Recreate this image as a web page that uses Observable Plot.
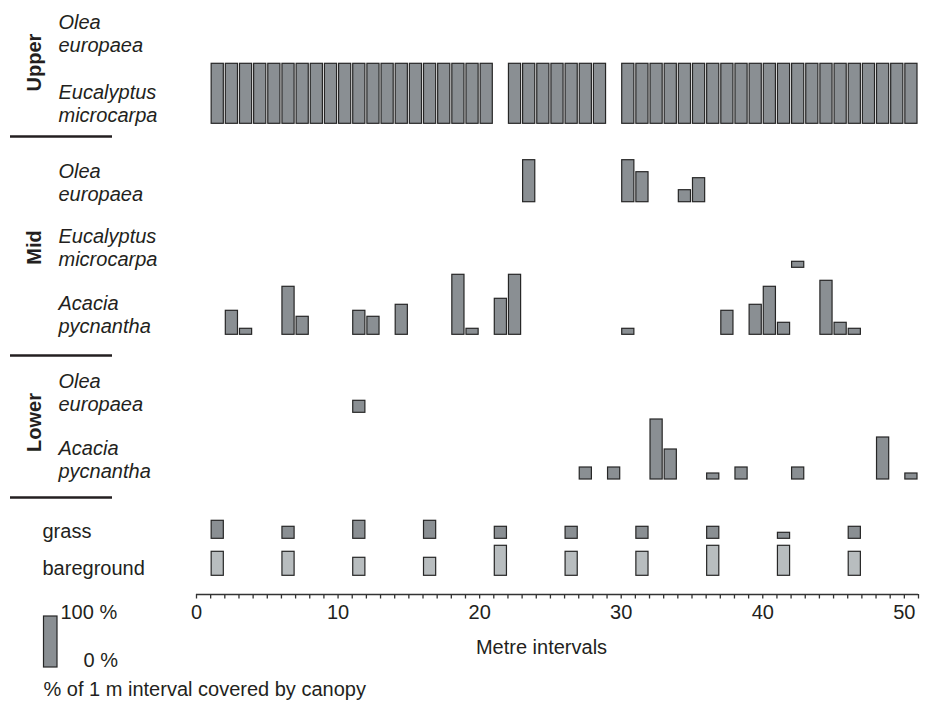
<!DOCTYPE html>
<html>
<head>
<meta charset="utf-8">
<script src="https://cdn.jsdelivr.net/npm/d3@7"></script>
<script src="https://cdn.jsdelivr.net/npm/@observablehq/plot@0.6"></script>
<style>
  html, body { margin: 0; padding: 0; background: #fff; }
  #chart { width: 932px; height: 704px; }
</style>
</head>
<body>
<div id="chart"></div>
<script>
// ---------------- DATA (metre interval start, % of interval covered) ----------------
const upperOleaM = [];
const upperOleaPct = [];

const upperEucM = [1,2,3,4,5,6,7,8,9,10,11,12,13,14,15,16,17,18,19,20,
                   22,23,24,25,26,27,28,
                   30,31,32,33,34,35,36,37,38,39,40,41,42,43,44,45,46,47,48,49,50];
const upperEucPct = [100,100,100,100,100,100,100,100,100,100,100,100,100,100,100,100,100,100,100,100,
                     100,100,100,100,100,100,100,
                     100,100,100,100,100,100,100,100,100,100,100,100,100,100,100,100,100,100,100,100,100];

const midOleaM = [23, 30, 31, 34, 35];
const midOleaPct = [70, 70, 50, 20, 40];

const midEucM = [42];
const midEucPct = [10];

const midAcaciaM = [2, 3, 6, 7, 11, 12, 14, 18, 19, 21, 22, 30, 37, 39, 40, 41, 44, 45, 46];
const midAcaciaPct = [40, 10, 80, 30, 40, 30, 50, 100, 10, 60, 100, 10, 40, 50, 80, 20, 90, 20, 10];

const lowerOleaM = [11];
const lowerOleaPct = [20];

const lowerAcaciaM = [27, 29, 32, 33, 36, 38, 42, 48, 50];
const lowerAcaciaPct = [20, 20, 100, 50, 10, 20, 20, 70, 10];

const grassM = [1, 6, 11, 16, 21, 26, 31, 36, 41, 46];
const grassPct = [30, 20, 30, 30, 20, 20, 20, 20, 10, 20];

const bareM = [1, 6, 11, 16, 21, 26, 31, 36, 41, 46];
const barePct = [40, 40, 30, 30, 50, 40, 40, 50, 50, 40];

const xTicks = [0,1,2,3,4,5,6,7,8,9,10,11,12,13,14,15,16,17,18,19,20,21,22,23,24,25,
                26,27,28,29,30,31,32,33,34,35,36,37,38,39,40,41,42,43,44,45,46,47,48,49,50,51];
const xTickLabels = [0, 10, 20, 30, 40, 50];

const groupNames = ["Upper", "Mid", "Lower"];
const speciesLabels = ["Olea\neuropaea", "Eucalyptus\nmicrocarpa", "Olea\neuropaea",
                       "Eucalyptus\nmicrocarpa", "Acacia\npycnantha", "Olea\neuropaea", "Acacia\npycnantha"];
const groundLabels = ["grass", "bareground"];

// ---------------- LAYOUT ----------------
const W = 932, H = 704;
const LEFT = 196, RIGHT = 918, AXIS_Y = 594, XMAX = 51;
const PCT_PX = 0.6; // pixels per percent (100 % = 60 px)
const X = px => (px - LEFT) * XMAX / (RIGHT - LEFT);
const Y = px => (AXIS_Y - px) / PCT_PX;

const DARK = "#8a8f93", LIGHT = "#b8bdbf", EDGE = "#262626", INK = "#231f20";

const rows = [
  {m: upperOleaM,   pct: upperOleaPct,   base: 53,    fill: DARK},
  {m: upperEucM,    pct: upperEucPct,    base: 123.3, fill: DARK},
  {m: midOleaM,     pct: midOleaPct,     base: 201.7, fill: DARK},
  {m: midEucM,      pct: midEucPct,      base: 267.3, fill: DARK},
  {m: midAcaciaM,   pct: midAcaciaPct,   base: 334.3, fill: DARK},
  {m: lowerOleaM,   pct: lowerOleaPct,   base: 412.3, fill: DARK},
  {m: lowerAcaciaM, pct: lowerAcaciaPct, base: 479,   fill: DARK},
  {m: grassM,       pct: grassPct,       base: 538.3, fill: DARK},
  {m: bareM,        pct: barePct,        base: 575.3, fill: LIGHT}
];

const bars = rows.flatMap(r => r.m.map((m, i) => ({
  m, pct: r.pct[i], y0: Y(r.base), fill: r.fill
})));

const speciesTable = speciesLabels.map((t, i) => ({t, y: Y(rows[i].base)}));
const groundTable = groundLabels.map((t, i) => ({t, y: Y(rows[7 + i].base)}));
const groupTable = groupNames.map((t, i) => ({t, y: Y([62, 247, 422][i])}));
const sepTable = [136, 355, 497].map(p => ({y: Y(p)}));

const chart = Plot.plot({
  width: W, height: H,
  marginLeft: LEFT, marginRight: W - RIGHT, marginTop: 0, marginBottom: H - AXIS_Y,
  style: {fontFamily: "'Liberation Sans', Arial, Helvetica, sans-serif", fontSize: "20px", color: INK, background: "#fff"},
  x: {domain: [0, XMAX]},
  y: {domain: [0, Y(0)], axis: null},
  marks: [
    // bars
    Plot.rect(bars, {
      x1: "m", x2: d => d.m + 1,
      y1: "y0", y2: d => d.y0 + d.pct,
      fill: "fill", stroke: EDGE, strokeWidth: 1.2,
      insetLeft: 1, insetRight: 1
    }),
    // axis line & ticks
    Plot.ruleY([0], {stroke: "#333", strokeWidth: 1.3}),
    Plot.axisX({
      ticks: xTicks,
      tickFormat: d => xTickLabels.includes(d) ? String(d) : "",
      tickSize: 4.5, tickPadding: 6, stroke: "#333", strokeWidth: 1.3,
      fontSize: 20, fill: INK, label: null
    }),
    Plot.text(["Metre intervals"], {x: X(541), y: Y(647), fontSize: 20, fill: INK}),
    // species labels
    Plot.text(speciesTable, {
      text: "t", y: "y", frameAnchor: "left", dx: 58 - LEFT, dy: -20.5,
      textAnchor: "start", lineAnchor: "middle", lineHeight: 1.15,
      fontStyle: "italic", fontSize: 20, fill: INK
    }),
    Plot.text(groundTable, {
      text: "t", y: "y", x: () => X(42), dy: -7,
      textAnchor: "start", fontSize: 20, fill: INK
    }),
    // group labels
    Plot.text(groupTable, {
      text: "t", y: "y", x: () => X(34), rotate: -90,
      fontWeight: "bold", fontSize: 20, fill: INK
    }),
    // separators
    Plot.ruleY(sepTable, {y: "y", x1: () => X(10), x2: () => X(112), stroke: INK, strokeWidth: 2.3}),
    // legend
    Plot.rect([{}], {x1: () => X(43.5), x2: () => X(57), y1: () => Y(667), y2: () => Y(616),
      fill: DARK, stroke: EDGE, strokeWidth: 1.2}),
    Plot.text(["100 %"], {x: () => X(60), y: () => Y(612), textAnchor: "start", fontSize: 20, fill: INK}),
    Plot.text(["0 %"], {x: () => X(83), y: () => Y(660), textAnchor: "start", fontSize: 20, fill: INK}),
    Plot.text(["% of 1 m interval covered by canopy"], {x: () => X(43), y: () => Y(689), textAnchor: "start", fontSize: 20, fill: INK})
  ]
});
document.getElementById("chart").appendChild(chart);
</script>
</body>
</html>
